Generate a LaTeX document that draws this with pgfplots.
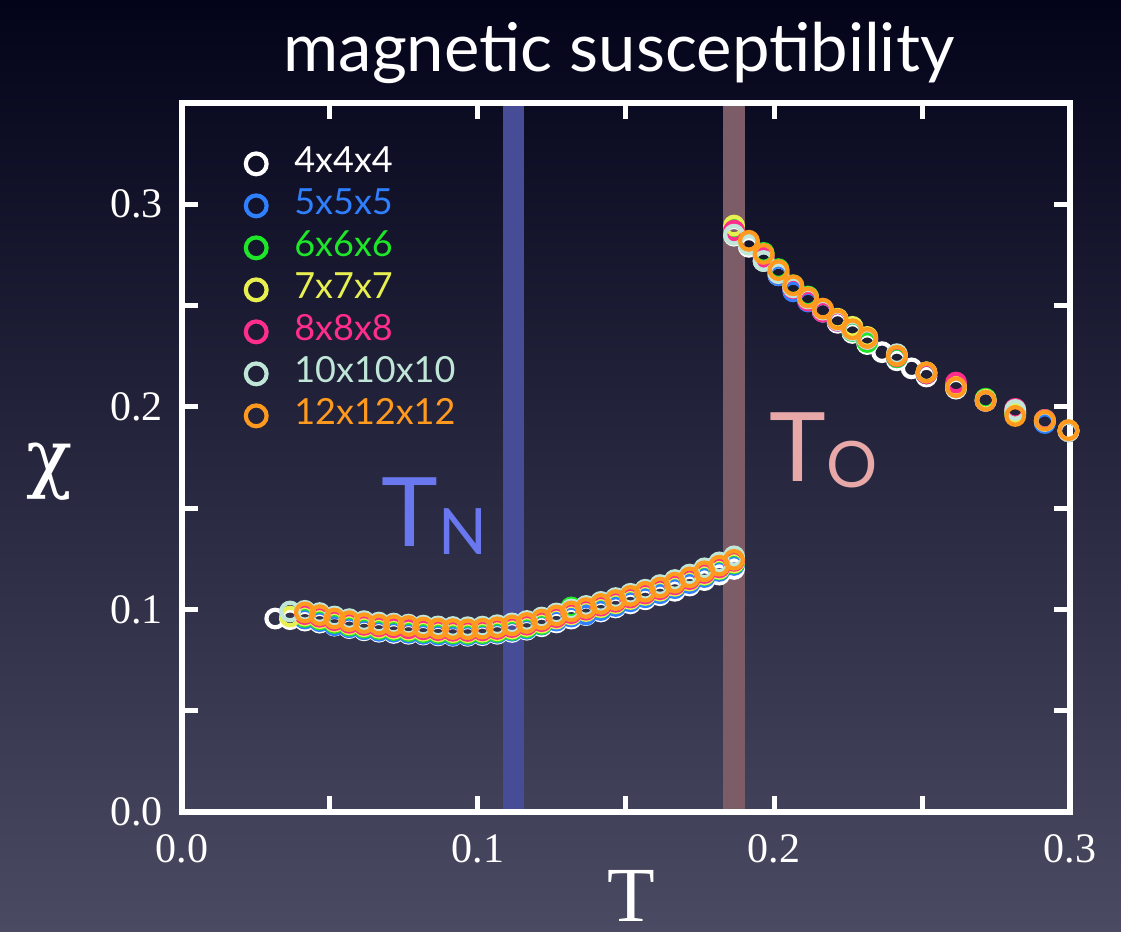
\documentclass[border=0pt]{standalone}
\usepackage{pgfplots}
\pgfplotsset{compat=1.18}
\usepackage{fontspec}
\setmainfont{Liberation Serif}
\newfontfamily\gill{Lato}
\newfontfamily\dvserif{DejaVu Serif}
\definecolor{bgtop}{HTML}{03031A}
\definecolor{bgmid}{HTML}{1B1B36}
\definecolor{bgbot}{HTML}{4A4A63}
\definecolor{cwhite}{HTML}{FFFFFF}
\definecolor{cblue}{HTML}{2F80FF}
\definecolor{cgreen}{HTML}{1EE628}
\definecolor{cyellow}{HTML}{E8F050}
\definecolor{cpink}{HTML}{FF2D8C}
\definecolor{cteal}{HTML}{C0E6D8}
\definecolor{corange}{HTML}{FF9A1E}
\definecolor{bandblue}{HTML}{474C96}
\definecolor{bandbrown}{HTML}{7B5C67}
\definecolor{tnblue}{HTML}{6A78F0}
\definecolor{topink}{HTML}{E8A8A8}
\begin{document}
\begin{tikzpicture}
\useasboundingbox (-91pt,-60pt) rectangle (469.5pt,406pt);
\shade[top color=bgtop, middle color=bgmid, bottom color=bgbot] (-91pt,-60pt) rectangle (469.5pt,406pt);
\begin{axis}[
  at={(0pt,0pt)}, anchor=south west,
  scale only axis, width=444pt, height=354.5pt,
  xmin=0, xmax=0.3, ymin=0, ymax=0.35,
  xtick={0,0.1,0.2,0.3}, ytick={0,0.1,0.2,0.3},
  xticklabels={0.0,0.1,0.2,0.3}, yticklabels={0.0,0.1,0.2,0.3},
  minor xtick={0.05,0.15,0.25}, minor ytick={0.05,0.15,0.25},
  tick align=inside, tick pos=both, xticklabel pos=lower, yticklabel pos=left,
  major tick length=8pt, minor tick length=8pt,
  every tick/.style={white, line width=2.5pt},
  axis line style={white, line width=3pt},
  ticklabel style={font=\fontsize{21}{21}\selectfont, text=white},
  xticklabel style={yshift=-8pt},
  yticklabel style={xshift=-6pt},
  axis on top=true,
  clip=false,
  legend style={draw=none, fill=none, font=\gill\fontsize{18}{18}\selectfont,
    at={(0.056,0.95)}, anchor=north west, row sep=0pt,
    nodes={text height=12.5pt, text depth=3.5pt, inner ysep=2.5pt, inner xsep=4pt}},
  legend cell align=left,
  legend image code/.code={\path (0pt,0pt) (22pt,0pt); \draw[#1, mark size=5.2pt] plot coordinates {(8pt,0pt)};},
  every axis plot/.append style={only marks, mark=o, mark size=4.4pt, line width=2.1pt},
]
\fill[bandblue] (axis cs:0.1084,0) rectangle (axis cs:0.1155,0.35);
\fill[bandbrown] (axis cs:0.1828,0) rectangle (axis cs:0.1902,0.35);

\addplot[cwhite] coordinates {
(0.0315,0.0955)(0.0365,0.0952)(0.0415,0.0945)(0.0465,0.0935)(0.0515,0.0920)(0.0565,0.0908)(0.0615,0.0897)(0.0665,0.0890)(0.0715,0.0884)(0.0765,0.0880)(0.0815,0.0876)(0.0865,0.0872)(0.0915,0.0870)(0.0965,0.0870)(0.1015,0.0873)(0.1065,0.0880)(0.1115,0.0889)(0.1165,0.0900)(0.1215,0.0917)(0.1265,0.0936)(0.1315,0.0955)(0.1365,0.0972)(0.1415,0.0990)(0.1465,0.1010)(0.1515,0.1030)(0.1565,0.1050)(0.1615,0.1070)(0.1665,0.1092)(0.1715,0.1118)(0.1765,0.1145)(0.1815,0.1172)(0.1865,0.1200)
(0.1865,0.2845)(0.1915,0.2790)(0.1965,0.2720)(0.2015,0.2650)(0.2065,0.2585)(0.2115,0.2530)(0.2165,0.2470)(0.2215,0.2415)(0.2265,0.2365)(0.2315,0.2310)(0.2365,0.2270)(0.2415,0.2230)(0.2465,0.2190)(0.2515,0.2150)(0.2615,0.2090)(0.2715,0.2030)(0.2815,0.1970)(0.2915,0.1925)(0.2995,0.1880)
};
\addlegendentry{\textcolor{cwhite}{4x4x4}}
\addplot[cblue] coordinates {
(0.0415,0.0955)(0.0465,0.0942)(0.0515,0.0922)(0.0565,0.0912)(0.0615,0.0902)(0.0665,0.0895)(0.0715,0.0890)(0.0765,0.0885)(0.0815,0.0880)(0.0865,0.0876)(0.0915,0.0873)(0.0965,0.0874)(0.1015,0.0878)(0.1065,0.0885)(0.1115,0.0895)(0.1165,0.0905)(0.1215,0.0925)(0.1265,0.0945)(0.1315,0.0965)(0.1365,0.0975)(0.1415,0.0997)(0.1465,0.1017)(0.1515,0.1040)(0.1565,0.1060)(0.1615,0.1080)(0.1665,0.1105)(0.1715,0.1130)(0.1765,0.1160)(0.1815,0.1190)(0.1865,0.1220)
(0.1865,0.2865)(0.1915,0.2810)(0.1965,0.2730)(0.2015,0.2650)(0.2065,0.2570)(0.2115,0.2520)(0.2165,0.2470)(0.2215,0.2425)(0.2265,0.2375)(0.2315,0.2330)(0.2415,0.2245)(0.2515,0.2165)(0.2615,0.2105)(0.2715,0.2030)(0.2815,0.1970)(0.2915,0.1920)(0.2995,0.1880)
};
\addlegendentry{\textcolor{cblue}{5x5x5}}
\addplot[cgreen] coordinates {
(0.0415,0.0963)(0.0465,0.0950)(0.0515,0.0933)(0.0565,0.0920)(0.0615,0.0910)(0.0665,0.0903)(0.0715,0.0898)(0.0765,0.0893)(0.0815,0.0888)(0.0865,0.0884)(0.0915,0.0881)(0.0965,0.0880)(0.1015,0.0883)(0.1065,0.0890)(0.1115,0.0899)(0.1165,0.0911)(0.1215,0.0928)(0.1265,0.0965)(0.1315,0.1010)(0.1365,0.0995)(0.1415,0.1010)(0.1465,0.1030)(0.1515,0.1052)(0.1565,0.1072)(0.1615,0.1093)(0.1665,0.1117)(0.1715,0.1143)(0.1765,0.1170)(0.1815,0.1198)(0.1865,0.1228)
(0.1865,0.2875)(0.1915,0.2810)(0.1965,0.2760)(0.2015,0.2680)(0.2065,0.2600)(0.2115,0.2545)(0.2165,0.2480)(0.2215,0.2430)(0.2265,0.2375)(0.2315,0.2320)(0.2415,0.2245)(0.2515,0.2165)(0.2615,0.2100)(0.2715,0.2040)(0.2815,0.1965)(0.2915,0.1935)(0.2995,0.1880)
};
\addlegendentry{\textcolor{cgreen}{6x6x6}}
\addplot[cyellow] coordinates {
(0.0365,0.0965)(0.0415,0.0970)(0.0465,0.0957)(0.0515,0.0940)(0.0565,0.0927)(0.0615,0.0917)(0.0665,0.0910)(0.0715,0.0905)(0.0765,0.0900)(0.0815,0.0895)(0.0865,0.0891)(0.0915,0.0888)(0.0965,0.0887)(0.1015,0.0890)(0.1065,0.0897)(0.1115,0.0906)(0.1165,0.0918)(0.1215,0.0935)(0.1265,0.0955)(0.1315,0.0975)(0.1365,0.0992)(0.1415,0.1012)(0.1465,0.1031)(0.1515,0.1052)(0.1565,0.1072)(0.1615,0.1093)(0.1665,0.1117)(0.1715,0.1143)(0.1765,0.1173)(0.1815,0.1201)(0.1865,0.1232)
(0.1865,0.2895)(0.1915,0.2815)(0.1965,0.2745)(0.2015,0.2670)(0.2065,0.2595)(0.2115,0.2540)(0.2165,0.2480)(0.2215,0.2435)(0.2265,0.2395)(0.2315,0.2345)(0.2415,0.2255)(0.2515,0.2170)(0.2615,0.2100)(0.2715,0.2035)(0.2815,0.1975)(0.2915,0.1935)(0.2995,0.1885)
};
\addlegendentry{\textcolor{cyellow}{7x7x7}}
\addplot[cpink] coordinates {
(0.0415,0.0977)(0.0465,0.0964)(0.0515,0.0947)(0.0565,0.0934)(0.0615,0.0924)(0.0665,0.0917)(0.0715,0.0912)(0.0765,0.0907)(0.0815,0.0902)(0.0865,0.0898)(0.0915,0.0895)(0.0965,0.0894)(0.1015,0.0897)(0.1065,0.0904)(0.1115,0.0913)(0.1165,0.0925)(0.1215,0.0942)(0.1265,0.0962)(0.1315,0.0982)(0.1365,0.0999)(0.1415,0.1019)(0.1465,0.1038)(0.1515,0.1059)(0.1565,0.1079)(0.1615,0.1100)(0.1665,0.1124)(0.1715,0.1150)(0.1765,0.1180)(0.1815,0.1208)(0.1865,0.1240)
(0.1865,0.2870)(0.1915,0.2810)(0.1965,0.2740)(0.2015,0.2660)(0.2065,0.2585)(0.2115,0.2525)(0.2165,0.2470)(0.2215,0.2425)(0.2265,0.2380)(0.2315,0.2335)(0.2415,0.2250)(0.2515,0.2165)(0.2615,0.2120)(0.2715,0.2030)(0.2815,0.1990)(0.2915,0.1935)(0.2995,0.1880)
};
\addlegendentry{\textcolor{cpink}{8x8x8}}
\addplot[cteal] coordinates {
(0.0365,0.0990)(0.0415,0.0993)(0.0465,0.0982)(0.0515,0.0965)(0.0565,0.0952)(0.0615,0.0942)(0.0665,0.0935)(0.0715,0.0930)(0.0765,0.0925)(0.0815,0.0920)(0.0865,0.0916)(0.0915,0.0913)(0.0965,0.0912)(0.1015,0.0915)(0.1065,0.0922)(0.1115,0.0931)(0.1165,0.0943)(0.1215,0.0960)(0.1265,0.0980)(0.1315,0.1000)(0.1365,0.1017)(0.1415,0.1037)(0.1465,0.1056)(0.1515,0.1077)(0.1565,0.1097)(0.1615,0.1120)(0.1665,0.1145)(0.1715,0.1172)(0.1765,0.1203)(0.1815,0.1232)(0.1865,0.1262)
(0.1865,0.2850)(0.1915,0.2800)(0.1965,0.2720)(0.2015,0.2660)(0.2065,0.2590)(0.2115,0.2535)(0.2165,0.2480)(0.2215,0.2428)(0.2265,0.2378)(0.2315,0.2335)(0.2415,0.2260)(0.2515,0.2170)(0.2615,0.2095)(0.2715,0.2030)(0.2815,0.1985)(0.2915,0.1930)(0.2995,0.1880)
};
\addlegendentry{\textcolor{cteal}{10x10x10}}
\addplot[corange] coordinates {
(0.0415,0.0985)(0.0465,0.0972)(0.0515,0.0955)(0.0565,0.0942)(0.0615,0.0932)(0.0665,0.0925)(0.0715,0.0922)(0.0765,0.0918)(0.0815,0.0911)(0.0865,0.0906)(0.0915,0.0903)(0.0965,0.0902)(0.1015,0.0905)(0.1065,0.0912)(0.1115,0.0921)(0.1165,0.0933)(0.1215,0.0950)(0.1265,0.0970)(0.1315,0.0990)(0.1365,0.1007)(0.1415,0.1027)(0.1465,0.1046)(0.1515,0.1067)(0.1565,0.1087)(0.1615,0.1108)(0.1665,0.1132)(0.1715,0.1158)(0.1765,0.1188)(0.1815,0.1216)(0.1865,0.1245)
(0.1915,0.2820)(0.1965,0.2755)(0.2015,0.2675)(0.2065,0.2600)(0.2115,0.2540)(0.2165,0.2485)(0.2215,0.2432)(0.2265,0.2383)(0.2315,0.2340)(0.2415,0.2252)(0.2515,0.2170)(0.2615,0.2097)(0.2715,0.2030)(0.2815,0.1955)(0.2915,0.1932)(0.2995,0.1885)
};
\addlegendentry{\textcolor{corange}{12x12x12}}
\end{axis}
\node[anchor=base, text=white, font=\gill\fontsize{33.5}{33.5}\selectfont, inner sep=0pt] at (218.5pt,370pt) {magnetic susceptibility};
\node[anchor=base, text=white, font=\fontsize{39}{39}\selectfont, inner sep=0pt, text depth=0pt] at (224.5pt,-55pt) {T};
\node[anchor=base, text=white, font=\dvserif\fontsize{38}{38}\selectfont, inner sep=0pt] at (-66pt,164pt) {χ};
\node[anchor=base west, text=tnblue, font=\gill, inner sep=0pt] at (99.5pt,132.5pt) {\fontsize{48}{48}\selectfont T\raisebox{-4pt}{\fontsize{32}{32}\selectfont N}};
\node[anchor=base west, text=topink, font=\gill, inner sep=0pt] at (293.5pt,165pt) {\fontsize{48}{48}\selectfont T\raisebox{-3pt}{\fontsize{32}{32}\selectfont O}};
\end{tikzpicture}
\end{document}
